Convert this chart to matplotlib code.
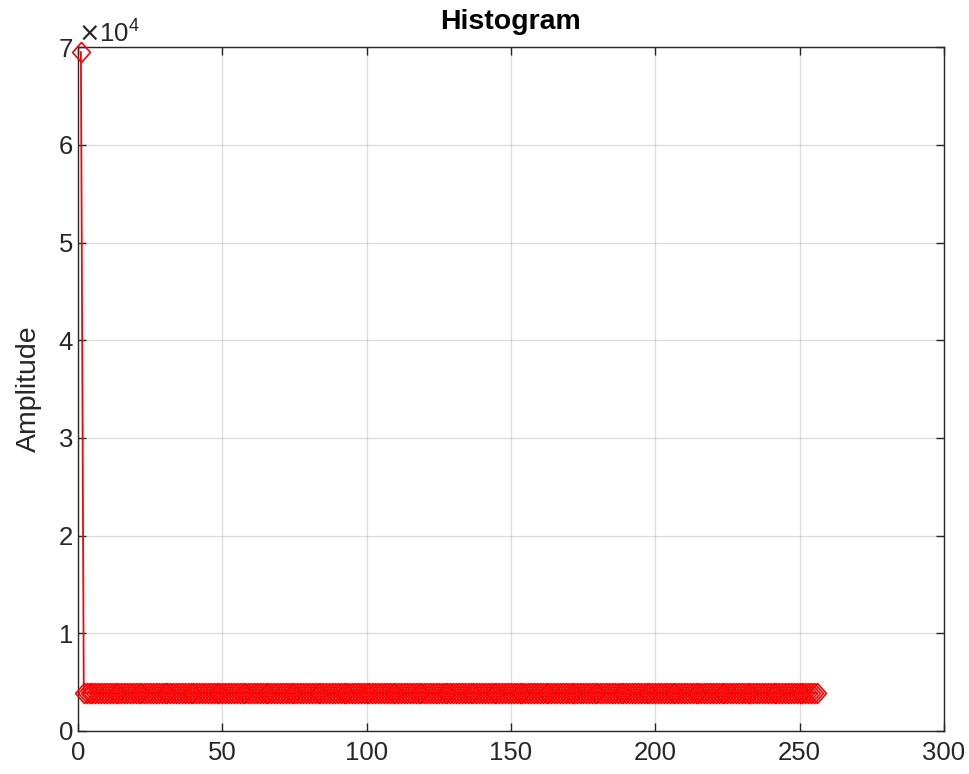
import matplotlib.pyplot as plt
import numpy as np

plt.rcParams['font.family'] = ['Liberation Sans', 'DejaVu Sans']

# grey levels 1..256 and their counts
levels = list(range(1, 257))
counts = [69500] + [3900] * 255
xticks = [0, 50, 100, 150, 200, 250, 300]
yticks = [0, 10000, 20000, 30000, 40000, 50000, 60000, 70000]

fig = plt.figure(figsize=(9.69, 7.74), dpi=100)
ax = fig.add_axes([0.0805, 0.0556, 0.8935, 0.8834])

# matlab style diamond, a bit taller than wide
diamond = [(0, 1), (0.88, 0), (0, -1), (-0.88, 0), (0, 1)]
ax.plot(levels, counts, color='red', linewidth=1.3, marker=diamond,
        markersize=14.5, markerfacecolor='none', markeredgecolor='red',
        markeredgewidth=1.2, clip_on=False, zorder=3)

ax.set_xlim(0, 300)
ax.set_ylim(0, 70000)
ax.set_xticks(xticks)
ax.set_yticks(yticks)

ax.grid(True, color='#262626', alpha=0.15, linewidth=1)
ax.set_axisbelow(True)
ax.tick_params(direction='in', top=True, right=True, length=6,
               labelsize=18.5, colors='#262626', width=1)
ax.tick_params(axis='x', pad=7)
for s in ax.spines.values():
    s.set_color('#262626')
    s.set_linewidth(1)

ax.ticklabel_format(axis='y', style='sci', scilimits=(4, 4), useMathText=True)
ax.yaxis.get_offset_text().set_fontsize(18.5)
ax.yaxis.get_offset_text().set_color('#262626')

ax.set_ylabel('Amplitude', fontsize=20.5, color='#262626', labelpad=11)
ax.set_title('Histogram', fontsize=20.5, fontweight='bold', color='black', pad=13)

fig.savefig('out.png', dpi=100)
